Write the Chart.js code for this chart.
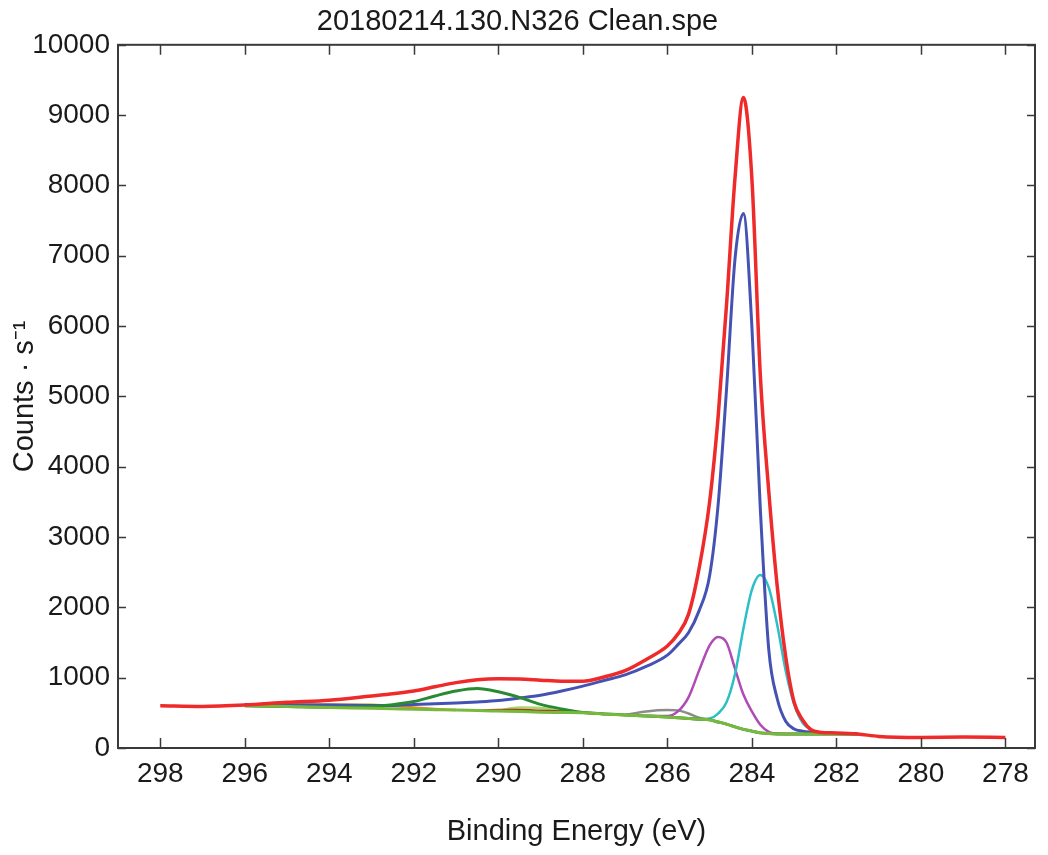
<!DOCTYPE html>
<html>
<head>
<meta charset="utf-8">
<title>20180214.130.N326 Clean.spe</title>
<script src="https://cdn.jsdelivr.net/npm/chart.js@4.4.1/dist/chart.umd.min.js"></script>
<style>
  html, body { margin: 0; padding: 0; background: #ffffff; }
  #wrap { width: 1048px; height: 855px; }
</style>
</head>
<body>
<div id="wrap"><canvas id="xpsChart" width="1048" height="855"></canvas></div>
<script>
// binding energy grid (eV), high -> low
const energy = [298, 297, 296, 295, 294, 293, 292.5, 292, 291.5, 291, 290.5, 290, 289.5, 289, 288.5, 288, 287.5, 287, 286.5, 286,
  285.75, 285.5, 285.25, 285, 284.8, 284.6, 284.4, 284.2, 284.0, 283.8, 283.6, 283.4, 283.2, 283.0, 282.8, 282.6, 282.4, 282, 281.5, 281, 280, 279, 278];

// measured envelope (red)
const envelope = [600, 590, 610, 650, 680, 740, 770, 810, 870, 930, 970, 985, 980, 965, 950, 950, 1010, 1100, 1260, 1450,
  1620, 1900, 2550, 3500, 4700, 6300, 8100, 9250, 8100, 5300, 3650, 2300, 1300, 650, 400, 260, 225, 215, 200, 165, 150, 155, 150];

// fitted components
const mainPeak = [null, null, 620, 615, 610, 605, 605, 620, 630, 640, 655, 675, 710, 750, 810, 880, 960, 1040, 1160, 1320,
  1470, 1640, 1950, 2450, 3450, 5100, 6950, 7600, 6000, 3400, 1400, 700, 380, 270, 240, 225, 215, 205, 200, null, null, null, null];
const background = [null, null, 600, 590, 575, 565, 558, 550, 545, 540, 532, 525, 518, 510, 505, 500, 485, 470, 455, 440,
  430, 420, 410, 400, 370, 340, 300, 265, 240, 215, 205, 200, 200, 200, 200, 200, 200, 200, 200, null, null, null, null];
const shakeUp = [null, null, 600, 590, 580, 590, 615, 660, 740, 810, 845, 800, 720, 620, 555, 505, 485, 470, 455, 440,
  430, 420, 410, 400, 370, 340, 300, 265, 240, 215, 205, 200, 200, 200, 200, 200, 200, 200, 200, null, null, null, null];
const lowPeak = [null, null, null, null, null, null, null, null, null, null, null, null, null, null, null, null, null, null, null, null,
  null, 420, 410, 420, 490, 650, 1050, 1700, 2250, 2460, 2280, 1750, 1100, 620, 360, 260, 225, 205, 200, null, null, null, null];
const cohPeak = [null, null, null, null, null, null, null, null, null, null, null, null, null, null, null, null, null, null, 455, 455,
  520, 720, 1100, 1460, 1580, 1500, 1130, 760, 520, 330, 230, 205, 200, 200, 200, 200, 200, 200, 200, null, null, null, null];
const grayPeak = [null, null, null, null, null, null, null, null, null, null, null, null, null, null, null, null, null, 470, 520, 540,
  535, 490, 430, 400, null, null, null, null, null, null, null, null, null, null, null, null, null, null, null, null, null, null, null];
const orangePeak = [null, null, 605, 610, 620, 615, 600, 575, 555, 540, null, null, null, null, null, null, null, null, null, null,
  null, null, null, null, null, null, null, null, null, null, null, null, null, null, null, null, null, null, null, null, null, null, null];
const brownPeak = [null, null, null, null, null, null, null, null, null, null, 530, 540, 540, 530, 520, 505, 485, null, null, null,
  null, null, null, null, null, null, null, null, null, null, null, null, null, null, null, null, null, null, null, null, null, null, null];
const limePeak = [null, null, null, null, null, null, null, null, null, null, null, 530, 575, 570, 525, 500, null, null, null, null,
  null, null, null, null, null, null, null, null, null, null, null, null, null, null, null, null, null, null, null, null, null, null, null];

const xTicks = [298, 296, 294, 292, 290, 288, 286, 284, 282, 280, 278];
const yTicks = [0, 1000, 2000, 3000, 4000, 5000, 6000, 7000, 8000, 9000, 10000];

const FONT = "'Liberation Sans', Arial, sans-serif";
const TEXT_COLOR = '#1a1a1a';
const AXIS_COLOR = '#3a3a3a';

function toPoints(values) {
  const pts = [];
  energy.forEach((e, i) => {
    if (values[i] !== null) pts.push({ x: e, y: values[i] });
  });
  return pts;
}

function line(values, color, width) {
  return {
    data: toPoints(values),
    borderColor: color,
    borderWidth: width,
    pointRadius: 0,
    cubicInterpolationMode: 'monotone',
    fill: false
  };
}

// box around the plot with inward tick marks on all four sides
const boxPlugin = {
  id: 'boxAxes',
  afterDraw(chart) {
    const { ctx, chartArea: a, scales } = chart;
    ctx.save();
    ctx.strokeStyle = AXIS_COLOR;
    ctx.lineWidth = 2;
    ctx.strokeRect(a.left, a.top, a.right - a.left, a.bottom - a.top);
    ctx.lineWidth = 1.5;
    ctx.beginPath();
    xTicks.forEach(v => {
      const px = Math.round(scales.x.getPixelForValue(v)) + 0.5;
      ctx.moveTo(px, a.bottom); ctx.lineTo(px, a.bottom - 10);
      ctx.moveTo(px, a.top); ctx.lineTo(px, a.top + 10);
    });
    yTicks.forEach(v => {
      const py = Math.round(scales.y.getPixelForValue(v)) + 0.5;
      ctx.moveTo(a.left, py); ctx.lineTo(a.left + 8, py);
      ctx.moveTo(a.right, py); ctx.lineTo(a.right - 8, py);
    });
    ctx.stroke();
    ctx.restore();
  }
};

new Chart(document.getElementById('xpsChart'), {
  type: 'line',
  data: {
    datasets: [
      line(envelope, '#ef2a2a', 3.5),
      line(background, '#78b83c', 3),
      line(shakeUp, '#2a8a34', 3),
      line(mainPeak, '#4453b3', 3),
      line(lowPeak, '#2cbfc6', 2.5),
      line(cohPeak, '#b04ab4', 2.5),
      line(grayPeak, '#8c8c8c', 2.5),
      line(orangePeak, '#e29122', 2.5),
      line(brownPeak, '#a3391e', 2.5),
      line(limePeak, '#a9d468', 2.5)
    ]
  },
  options: {
    responsive: false,
    animation: false,
    devicePixelRatio: 1,
    layout: { padding: { left: 0, right: 13, top: 0, bottom: 0 } },
    plugins: {
      legend: { display: false },
      tooltip: { enabled: false },
      title: {
        display: true,
        text: '20180214.130.N326 Clean.spe',
        color: TEXT_COLOR,
        font: { family: FONT, size: 29, weight: 'normal' },
        padding: { top: 5, bottom: 5 }
      }
    },
    scales: {
      x: {
        type: 'linear',
        reverse: true,
        min: 277.3,
        max: 299,
        afterBuildTicks: scale => { scale.ticks = xTicks.map(v => ({ value: v })); },
        afterFit: scale => { scale.height = 107; },
        grid: { display: false, drawTicks: false },
        border: { display: false },
        ticks: {
          color: TEXT_COLOR,
          padding: 9,
          maxRotation: 0,
          font: { family: FONT, size: 28 },
          callback: value => String(value)
        },
        title: {
          display: true,
          text: 'Binding Energy (eV)',
          color: TEXT_COLOR,
          font: { family: FONT, size: 29 },
          padding: { top: 0, bottom: 6 }
        }
      },
      y: {
        min: 0,
        max: 10000,
        afterBuildTicks: scale => { scale.ticks = yTicks.map(v => ({ value: v })); },
        afterFit: scale => { scale.width = 118; },
        grid: { display: false, drawTicks: false },
        border: { display: false },
        ticks: {
          color: TEXT_COLOR,
          padding: 8,
          font: { family: FONT, size: 28 },
          callback: value => String(value)
        },
        title: {
          display: true,
          text: 'Counts · s⁻¹',
          color: TEXT_COLOR,
          font: { family: FONT, size: 29 },
          padding: { top: 8, bottom: 0 }
        }
      }
    }
  },
  plugins: [boxPlugin]
});
</script>
</body>
</html>
